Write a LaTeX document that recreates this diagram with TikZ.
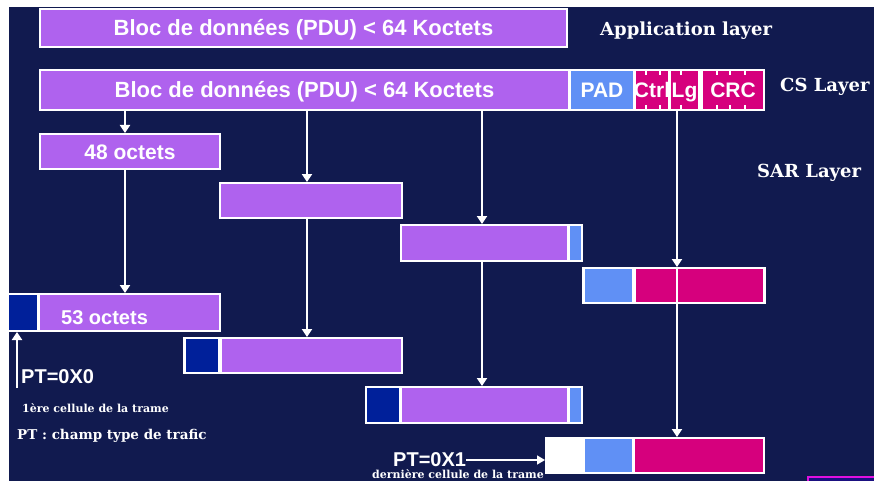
\documentclass[tikz,border=0pt]{standalone}
\usepackage{fontspec}
\usetikzlibrary{arrows.meta}
\newfontfamily\sansf{Liberation Sans}
\newfontfamily\seriff{DejaVu Serif}
\definecolor{navy}{HTML}{111A4F}
\definecolor{purp}{HTML}{AF62EE}
\definecolor{lblue}{HTML}{6090F5}
\definecolor{mag}{HTML}{D6007D}
\definecolor{dblue}{HTML}{00209A}
\definecolor{brmag}{HTML}{E010E0}
\definecolor{deepb}{HTML}{1A1080}
\tikzset{
  cellbox/.style={inner sep=0pt, outer sep=0pt, anchor=north west, text=white,
    text height=18pt, text depth=2pt,
    font=\sansf\bfseries\fontsize{21}{21}\selectfont},
  wline/.style={draw=white, line width=2pt},
  warr/.style={wline, -{Triangle[width=10pt,length=8pt]}},
  lbl/.style={text=white, inner sep=0pt, anchor=west, font=\seriff\bfseries\fontsize{18}{18}\selectfont},
  small/.style={text=white, inner sep=0pt, anchor=west, font=\seriff\bfseries\fontsize{11}{11}\selectfont},
  ptlbl/.style={text=white, inner sep=0pt, anchor=west, font=\sansf\bfseries\fontsize{20}{20}\selectfont},
  tick/.style={draw=white, line width=1.5pt},
}
\newcommand\mybox[7]{\node[cellbox, fill=#6, minimum width={(#4-#2)*1pt}, minimum height={(#5-#3)*1pt}] (#1) at (#2,#3) {#7};}
\begin{document}
\begin{tikzpicture}[x=1pt,y=-1pt]
\useasboundingbox (0,0) rectangle (874,481);
\clip (0,0) rectangle (874,481);
\fill[white] (0,0) rectangle (874,481);
\fill[navy] (9,7) rectangle (874,481);
% application layer
\mybox{app}{39}{8}{568}{48}{white}{}
\mybox{appi}{41}{10}{566}{46}{purp}{\fontsize{22}{22}\selectfont Bloc de données (PDU) < 64 Koctets}
\node[lbl] (applbl) at (600,31) {Application layer};
% CS layer
\mybox{cs}{39}{69}{765}{111}{white}{}
\mybox{csd}{41}{71}{568}{109}{purp}{\fontsize{22}{22}\selectfont Bloc de données (PDU) < 64 Koctets}
\mybox{pad}{571}{71}{633}{109}{lblue}{PAD}
\mybox{ctrl}{636}{71}{668}{109}{mag}{}
\mybox{lg}{671}{71}{698}{109}{mag}{}
\mybox{crc}{703}{71}{763}{109}{mag}{}
\foreach \x in {646,660,681,717,730,745}{
  \draw[tick] (\x,71) -- (\x,75);
  \draw[tick] (\x,105) -- (\x,109);
}
\node[cellbox, anchor=center] (ctrlt) at (ctrl.center) {Ctrl};
\node[cellbox, anchor=center] (lgt) at (lg.center) {Lg};
\node[cellbox, anchor=center] (crct) at (crc.center) {CRC};
\node[lbl] (cslbl) at (780,87) {CS Layer};
\node[lbl] (sarlbl) at (757,173) {SAR Layer};
% SAR segments
\mybox{A}{39}{133}{221}{170}{white}{}
\mybox{Ai}{41}{135}{219}{168}{purp}{48 octets}
\mybox{B}{219}{182}{403}{219}{white}{}
\mybox{Bi}{221}{184}{401}{217}{purp}{}
\mybox{C}{400}{224}{583}{262}{white}{}
\mybox{Ci}{402}{226}{567}{260}{purp}{}
\mybox{Cp}{570}{226}{581}{260}{lblue}{}
\mybox{D}{582}{267}{766}{304}{white}{}
\mybox{Dp}{585}{269}{632}{302}{lblue}{}
\mybox{Dm}{636}{269}{763}{302}{mag}{}
% ATM cells
\mybox{E}{9}{293}{221}{332}{white}{}
\mybox{Eh}{9}{295}{37}{330}{dblue}{}
\mybox{Ei}{40}{295}{219}{330}{purp}{}
\node[ptlbl] (Etxt) at (61,318) {53 octets};
\mybox{F}{183}{337}{403}{374}{white}{}
\mybox{Fh}{186}{339}{218}{372}{dblue}{}
\mybox{Fi}{222}{339}{401}{372}{purp}{}
\mybox{G}{365}{386}{583}{424}{white}{}
\mybox{Gh}{367}{388}{399}{422}{dblue}{}
\mybox{Gi}{402}{388}{567}{422}{purp}{}
\mybox{Gp}{570}{388}{581}{422}{lblue}{}
\mybox{H}{545}{437}{765}{474}{white}{}
\mybox{Hw}{547}{439}{583}{472}{white}{}
\mybox{Hp}{585}{439}{632}{472}{lblue}{}
\mybox{Hm}{635}{439}{763}{472}{mag}{}
% connectors
\coordinate (xa) at (125,0);
\coordinate (xb) at (307,0);
\coordinate (xc) at (482,0);
\coordinate (xd) at (677,0);
\draw[warr] (xa |- cs.south) -- (xa |- A.north);
\draw[warr] (xb |- cs.south) -- (xb |- B.north);
\draw[warr] (xc |- cs.south) -- (xc |- C.north);
\draw[warr] (xd |- cs.south) -- (xd |- D.north);
\draw[warr] (xa |- A.south) -- (xa |- E.north);
\draw[warr] (xb |- B.south) -- (xb |- F.north);
\draw[warr] (xc |- C.south) -- (xc |- G.north);
\draw[warr] (xd |- D.north) -- (xd |- H.north);
% PT labels
\coordinate (pt0) at (17,388);
\draw[warr] (pt0) -- (pt0 |- E.south);
\node[ptlbl] (pt0lbl) at (21,377) {PT=0X0};
\node[small] (first) at (22,408) {1ère cellule de la trame};
\node[small, font=\seriff\bfseries\fontsize{13.5}{13.5}\selectfont] (ptdef) at (17,436) {PT : champ type de trafic};
\node[ptlbl] (pt1lbl) at (393,460) {PT=0X1};
\draw[wline, -{Triangle[width=9pt,length=8pt]}, line width=1.5pt] (pt1lbl.east) -- (pt1lbl.east -| H.west);
\node[small] (last) at (372,474) {dernière cellule de la trame};
% partial frame at bottom right
\draw[brmag, line width=2pt, fill=deepb] (808,477) rectangle (890,500);
\end{tikzpicture}
\end{document}
